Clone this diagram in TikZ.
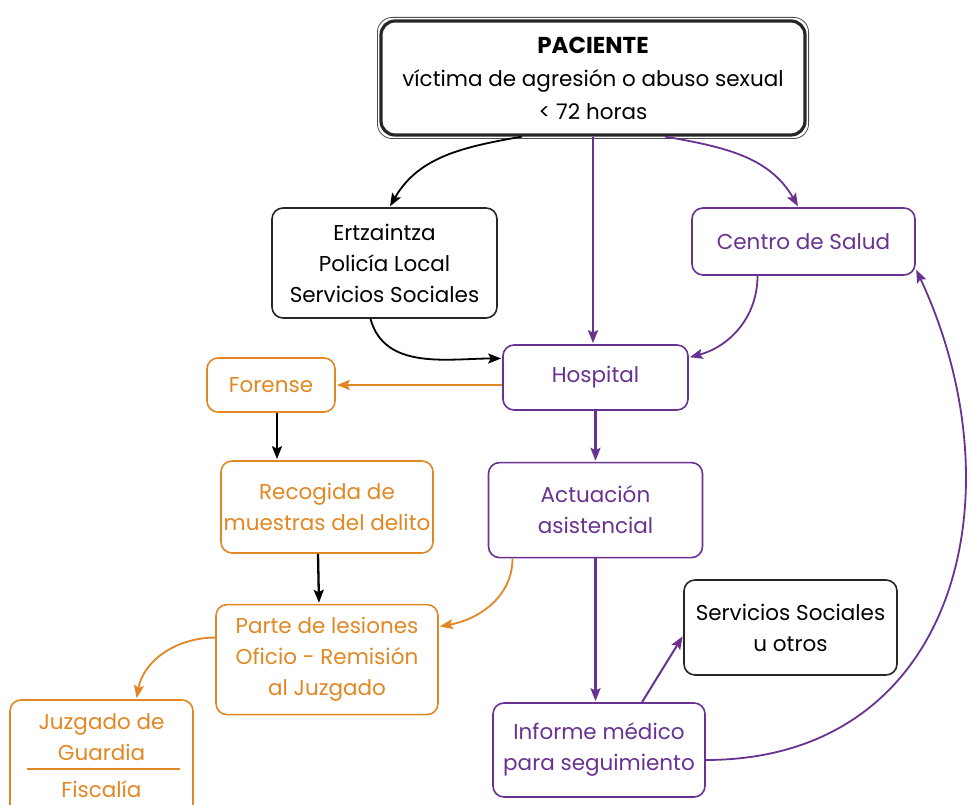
\documentclass[tikz,border=0pt]{standalone}
\usepackage{fontspec}
\setmainfont{Poppins}
\usetikzlibrary{arrows.meta, positioning}
\definecolor{purp}{RGB}{105,50,145}
\definecolor{orng}{RGB}{225,135,35}
\newcommand\boxfont{\fontsize{21.5}{31}\selectfont}

\begin{document}
\begin{tikzpicture}[x=1pt,y=1pt,>={Stealth[length=13pt,width=10pt,inset=2.5pt]},shorten >=1pt,
  box/.style={draw, rounded corners=11pt, align=center, line width=1.6pt, font=\boxfont, inner sep=0pt},
  kbox/.style={box, draw=black!85, text=black},
  pbox/.style={box, draw=purp, text=purp},
  obox/.style={box, draw=orng, text=orng},
  otxt/.style={text=orng, align=center, font=\boxfont}]
\useasboundingbox (0,0) rectangle (970,805);

% define the boxes
  \node[kbox, line width=3.2pt, rounded corners=14pt, minimum width=424pt, minimum height=114pt,
        font=\fontsize{21.5}{33}\selectfont] (pac) at (593,727)
{{\fontsize{23}{33}\selectfont\bfseries PACIENTE}\\víctima de agresión o abuso sexual\\< 72 horas};
  \draw[line width=0.8pt, black!70, rounded corners=15pt] ([shift={(-2pt,2pt)}]pac.north west) rectangle ([shift={(2pt,-2pt)}]pac.south east);
  \node[kbox, minimum width=225pt, minimum height=110pt] (ertz) at (384.5,542)
{Ertzaintza\\Policía Local\\Servicios Sociales};
  \node[pbox, minimum width=223pt, minimum height=67pt] (salud) at (803.5,563.5) {Centro de Salud};
  \node[pbox, minimum width=185pt, minimum height=65pt] (hosp) at (595.5,427.5) {Hospital};
  \node[obox, minimum width=128pt, minimum height=54pt] (foren) at (271,420) {Forense};
  \node[obox, minimum width=212pt, minimum height=92pt] (recog) at (327,298)
{Recogida de\\muestras del delito};
  \node[pbox, minimum width=214pt, minimum height=95pt] (actu) [below=51pt of hosp]
{Actuación\\asistencial};
  \node[obox, minimum width=222pt, minimum height=110pt] (parte) [below=50pt of recog]
{Parte de lesiones\\Oficio - Remisión\\al Juzgado};
  \node[obox, minimum width=183pt, minimum height=130pt] (juzg) at (101.5,40) {};
  \node[otxt] (juzgtxt) at (101.5,68) {Juzgado de\\Guardia};
  \node[otxt] (fisc) at (101.5,16) {Fiscalía};
  \draw[orng, line width=1.8pt] ([shift={(18pt,-70pt)}]juzg.north west) -- ([shift={(-13pt,-70pt)}]juzg.north east);
  \node[kbox, minimum width=213pt, minimum height=95pt] (servs) at (790.5,177.5)
{Servicios Sociales\\u otros};
  \node[pbox, minimum width=212pt, minimum height=94pt] (inform) at (599,55)
{Informe médico\\para seguimiento};

% define the links
  \path[->]
    ([xshift=-71pt]pac.south) edge [line width=1.8pt, out=190, in=60] ([xshift=5pt]ertz.north)
    ([xshift=72pt]pac.south) edge [purp, line width=1.8pt, out=-10, in=120] ([xshift=-5pt]salud.north)
    ([xshift=-14pt]ertz.south) edge [line width=1.8pt, out=-75, in=180] ([yshift=19pt]hosp.west)
    ([xshift=-46pt]salud.south) edge [purp, line width=1.8pt, out=-90, in=15] ([yshift=20pt]hosp.east)
    ([xshift=-83pt]actu.south) edge [orng, line width=1.8pt, out=-90, in=10] ([yshift=33pt]parte.east)
    ([yshift=22pt]parte.west) edge [orng, line width=1.8pt, out=180, in=80] ([xshift=35pt]juzg.north)
    ([xshift=43pt]inform.north) edge [purp, line width=2pt] ([yshift=-8pt]servs.west)
    ([yshift=-10pt]inform.east) edge [purp, line width=1.8pt, out=0, in=-65, looseness=1.2] ([yshift=7pt]salud.south east);
  \path[->]
    (pac.south) edge [purp, line width=2.4pt] (pac.south |- hosp.north)
    (hosp.south) edge [purp, line width=2.4pt] (actu.north)
    (actu.south) edge [purp, line width=2.4pt] (actu.south |- inform.north)
    (hosp.west |- foren.east) edge [orng, line width=2.8pt] (foren.east)
    ([xshift=6pt]foren.south) edge [black, line width=2.3pt] ([xshift=-50pt]recog.north)
    ([xshift=-9pt]recog.south) edge [black, line width=2.3pt] ([xshift=-8pt]parte.north);

\end{tikzpicture}
\end{document}
